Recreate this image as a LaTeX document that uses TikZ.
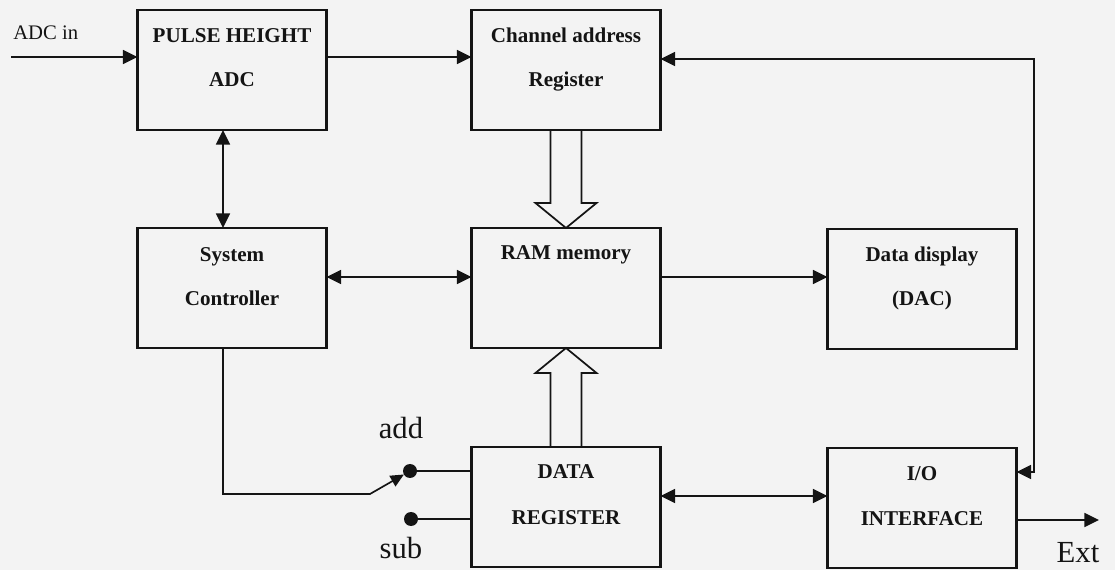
\documentclass[tikz,border=0pt]{standalone}
\usepackage{fontspec}
\setmainfont{Liberation Serif}
\usetikzlibrary{arrows.meta,calc}
\definecolor{bg}{RGB}{243,243,243}
\definecolor{ink}{RGB}{20,20,20}
\begin{document}
\begin{tikzpicture}[x=0.75pt,y=-0.75pt,
  box/.style={draw=ink,line width=1.7pt,minimum width=141.75pt,minimum height=90pt,inner sep=0pt,outer sep=0pt},
  lbl/.style={font=\fontsize{15.8}{19}\selectfont\bfseries,text=ink,anchor=base,inner sep=0pt},
  big/.style={font=\fontsize{23}{27}\selectfont,text=ink,anchor=base,inner sep=0pt},
  conn/.style={draw=ink,line width=1.25pt},
  arr/.style={conn,-{Triangle[length=11pt,width=10.5pt]}},
  darr/.style={conn,{Triangle[length=11pt,width=10.5pt]}-{Triangle[length=11pt,width=10.5pt]}},
  hollow/.style={draw=ink,line width=1.3pt,fill=bg,line join=miter},
  dot/.style={circle,fill=ink,minimum size=10.5pt,inner sep=0pt,outer sep=0pt}]
\fill[bg] (0,0) rectangle (1115,570);
\useasboundingbox (0,0) rectangle (1115,570);

% boxes
\node[box] (ph)  at (232,70)  {};
\node[box] (ch)  at (566,70)  {};
\node[box] (sc)  at (232,288) {};
\node[box] (ram) at (566,288) {};
\node[box] (dd)  at (922,289) {};
\node[box] (dr)  at (566,507) {};
\node[box] (io)  at (922,508) {};

% box labels
\node[lbl] (ph1) at ($(ph.north)+(0,33)$) {PULSE HEIGHT};
\node[lbl] (ph2) at ($(ph.north)+(0,77)$) {ADC};
\node[lbl] (ch1) at ($(ch.north)+(0,33)$) {Channel address};
\node[lbl] (ch2) at ($(ch.north)+(0,77)$) {Register};
\node[lbl] (sc1) at ($(sc.north)+(0,34)$) {System};
\node[lbl] (sc2) at ($(sc.north)+(0,78)$) {Controller};
\node[lbl] (ram1) at ($(ram.north)+(0,32)$) {RAM memory};
\node[lbl] (dd1) at ($(dd.north)+(0,33)$) {Data display};
\node[lbl] (dd2) at ($(dd.north)+(0,77)$) {(DAC)};
\node[lbl] (dr1) at ($(dr.north)+(0,32)$) {DATA};
\node[lbl] (dr2) at ($(dr.north)+(0,77)$) {REGISTER};
\node[lbl] (io1) at ($(io.north)+(0,32)$) {I/O};
\node[lbl] (io2) at ($(io.north)+(0,77)$) {INTERFACE};

% free texts
\node[font=\fontsize{15.5}{18}\selectfont,text=ink,anchor=base west,inner sep=0pt] (adcl) at (13,40) {ADC in};
\node[big] (addl) at (401,439) {add};
\node[big] (subl) at (401,558) {sub};
\node[big] (extl) at (1078,562) {Ext};

% coordinates
\coordinate (adcin) at (11,57);
\coordinate (rt) at (1034,59);
\coordinate (rb) at (1034,472);
\coordinate (xa) at (223,0);
\coordinate (ym) at (0,277);
\coordinate (yb) at (0,496);
\coordinate (ext) at (1099,520);
\coordinate (sw) at (370,494);
\node[dot] (add) at (410,471) {};
\node[dot] (sub) at (411,519) {};

% connectors
\draw[arr] (adcin) -- (adcin -| ph.west);
\draw[arr] (ph.east |- adcin) -- (ch.west |- adcin);
\draw[darr] (rb -| io.east) -- (rb) -- (rt) -- (rt -| ch.east);
\draw[darr] (ph.south -| xa) -- (sc.north -| xa);
\draw[darr] (sc.east |- ym) -- (ram.west |- ym);
\draw[arr] (ram.east |- ym) -- (dd.west |- ym);
\draw[darr] (dr.east |- yb) -- (io.west |- yb);
\draw[arr] (io.east |- ext) -- (ext);
\draw[conn,-{Triangle[length=10pt,width=9pt]}] (sc.south -| xa) |- (sw) -- (add);
\draw[conn] (add) -- (add -| dr.west);
\draw[conn] (sub) -- (sub -| dr.west);

% hollow bus arrows
\draw[hollow] (ram.north) -- ++(-30.5,-25) -- ++(15,0) -- ++(0,-73) -- ++(31,0) -- ++(0,73) -- ++(15,0) -- cycle;
\draw[hollow] (ram.south) -- ++(-30.5,25) -- ++(15,0) -- ++(0,74) -- ++(31,0) -- ++(0,-74) -- ++(15,0) -- cycle;
\end{tikzpicture}
\end{document}
